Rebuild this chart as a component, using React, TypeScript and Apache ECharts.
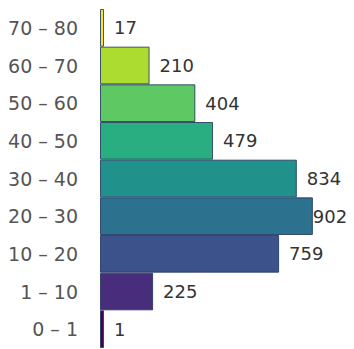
import React, { useEffect, useRef } from "react";
import * as echarts from "echarts";

// Age bands, bottom to top
const ageBands = ["0 – 1", "1 – 10", "10 – 20", "20 – 30", "30 – 40", "40 – 50", "50 – 60", "60 – 70", "70 – 80"];
const counts = [1, 225, 759, 902, 834, 479, 404, 210, 17];
const bandColors = ["#440154", "#472d7b", "#3b528b", "#2c728e", "#21918c", "#28ae80", "#5ec962", "#addc30", "#fde725"];

const FONT = "DejaVu Sans";

export default function App() {
  const ref = useRef<HTMLDivElement>(null);

  useEffect(() => {
    if (!ref.current) return;
    const chart = echarts.init(ref.current, undefined, { renderer: "svg" });
    chart.setOption({
      animation: false,
      grid: { left: 100, right: 18, top: 9, bottom: 1, containLabel: false },
      xAxis: {
        type: "value",
        min: 0,
        max: 1000,
        show: false,
      },
      yAxis: {
        type: "category",
        data: ageBands,
        axisLine: { show: false },
        axisTick: { show: false },
        splitLine: { show: false },
        axisLabel: {
          margin: 22,
          color: "#555",
          fontSize: 19,
          fontFamily: FONT,
        },
      },
      series: [
        {
          type: "bar",
          barCategoryGap: 0,
          barMinHeight: 4,
          data: counts.map((v, i) => ({
            value: v,
            itemStyle: { color: bandColors[i] },
            label: v === 902 ? { distance: 0 } : undefined,
          })),
          itemStyle: { borderColor: "rgba(35,55,95,0.85)", borderWidth: 1 },
          label: {
            show: true,
            position: "right",
            distance: 10,
            color: "#333",
            fontSize: 18,
            fontFamily: FONT,
          },
        },
      ],
    });
    return () => chart.dispose();
  }, []);

  return <div ref={ref} style={{ width: 354, height: 349, position: "absolute", left: 0, top: 0 }} />;
}
